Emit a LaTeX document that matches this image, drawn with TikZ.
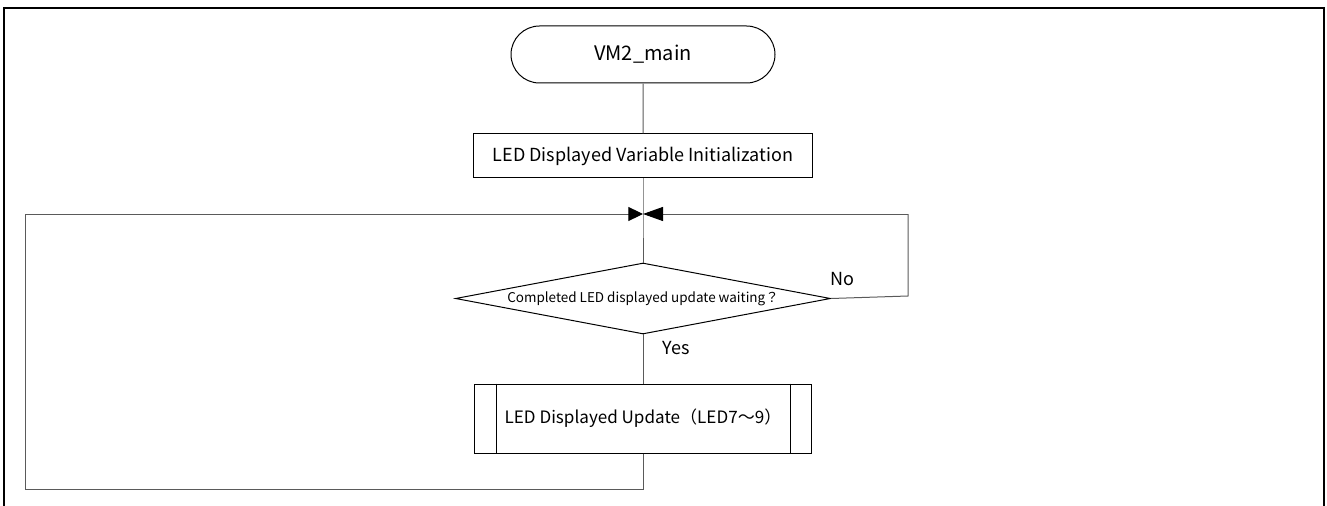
\documentclass[tikz,border=0pt]{standalone}
\usepackage{fontspec}
\setmainfont{Noto Sans CJK JP}
\usetikzlibrary{arrows.meta,shapes.geometric,shapes.misc,positioning}
\definecolor{linegray}{RGB}{90,90,90}

\begin{document}
\begin{tikzpicture}[x=0.75pt, y=-0.75pt]
  \tikzstyle{every node} = [inner sep = 0,
                            font = \fontsize{13.5}{15}\selectfont]
  \tikzstyle{flow} = [draw = linegray, line width = 0.75pt]
  \tikzstyle{terminal} = [rounded rectangle, draw, line width = 0.75pt,
                          minimum width = 198pt, minimum height = 42.75pt,
                          font = \fontsize{15}{17}\selectfont]
  \tikzstyle{process} = [rectangle, draw, line width = 0.75pt,
                         minimum width = 254pt, minimum height = 33pt]
  \tikzstyle{decision} = [diamond, draw, line width = 0.75pt, aspect = 5.28,
                          minimum width = 281.25pt, minimum height = 53.25pt,
                          font = \fontsize{10.1}{12}\selectfont]
  \tikzstyle{subroutine} = [rectangle, draw, line width = 0.75pt,
                            minimum width = 252.75pt, minimum height = 51.75pt,
                            font = \fontsize{12.8}{15}\selectfont]
  \tikzstyle{meet} = [-{Triangle[length=11pt, width=10.5pt, color=black]}]

\useasboundingbox (0,0) rectangle (1327,506);
\draw[line width = 1.5pt] (4,520) -- (4,8) -- (1324,8) -- (1324,520);

\node[terminal] (start) at (643,54.5) {VM2\_main};
\node[process, below = 37.5pt of start] (init) {LED Displayed Variable Initialization};
\coordinate (join) at (643,214);
\node[decision, below = 63pt of init] (wait) {Completed LED displayed update waiting？};
\node[subroutine, below = 36.75pt of wait] (update) {LED Displayed Update（LED7～9）};
\draw[line width = 0.75pt] ([xshift = 16.5pt]update.north west) -- ([xshift = 16.5pt]update.south west);
\draw[line width = 0.75pt] ([xshift = -16.5pt]update.north east) -- ([xshift = -16.5pt]update.south east);

\coordinate (noturn) at (908,296);
\coordinate (noback) at (908,214);
\coordinate (yesdown) at (643,489);
\coordinate (yesturn) at (25,489);
\coordinate (yesback) at (25,214);

\draw[flow] (start) -- (init);
\draw[flow] (init) -- (join) -- (wait);
\draw[flow] (wait) -- (update);
\draw[flow] (wait.east) -- (noturn) -- (noback);
\draw[flow, -{Triangle[length=15pt, width=10.5pt, color=black]}] (noback) -- (join);
\draw[flow] (update) -- (yesdown) -- (yesturn) -- (yesback);
\draw[flow, meet] (yesback) -- (join);

\node (yes) at (676,348) {Yes};
\node (no) at (842,279) {No};

\end{tikzpicture}
\end{document}
